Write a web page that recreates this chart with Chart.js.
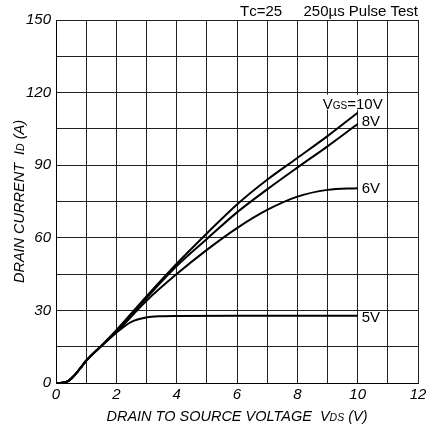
<!DOCTYPE html>
<html>
<head>
<meta charset="utf-8">
<script src="https://cdn.jsdelivr.net/npm/chart.js@4"></script>
<style>
  html, body { margin: 0; padding: 0; background: #fff; }
  #wrap { width: 426px; height: 430px; }
</style>
</head>
<body>
<div id="wrap"><canvas id="idChart" width="426" height="430"></canvas></div>
<script>
// drain voltage (V) sample points and drain current (A) for each gate voltage
const vds = [0, 0.2, 0.4, 0.6, 0.8, 1, 1.5, 2, 3, 4, 5, 6, 7, 8, 9, 10];
const id10V = [0, 0.1, 0.8, 3.0, 6.0, 9.2, 15.3, 21.8, 35.8, 49.3, 61.8, 73.8, 84, 93, 102, 111.7];
const id8V  = [0, 0.1, 0.8, 3.0, 6.0, 9.2, 15.3, 21.5, 35.2, 48.3, 59.5, 70.5, 80, 89, 97.8, 107];
const id6V  = [0, 0.1, 0.8, 3.0, 6.0, 9.2, 15.3, 21, 34, 45, 55, 64, 71.5, 77, 79.8, 80.5];
const vds5 = [0, 0.2, 0.4, 0.6, 0.8, 1, 1.5, 2, 2.5, 3, 3.5, 4, 6, 8, 10];
const id5V = [0, 0.1, 0.8, 3.0, 6.0, 9.2, 15.3, 20.8, 25.3, 27.1, 27.6, 27.7, 27.8, 27.8, 27.8];

const seriesNames = ['10V', '8V', '6V', '5V'];
const xTicks = [0, 2, 4, 6, 8, 10, 12];
const yTicks = [0, 30, 60, 90, 120, 150];

const FONT = '"Liberation Sans", Arial, sans-serif';

function pts(xs, ys) {
  return xs.map((x, i) => ({ x: x, y: ys[i] }));
}

function mixed(ctx, parts, x, y) {
  // parts: [text, size, italic]
  let cx = x;
  parts.forEach(p => {
    ctx.font = (p[2] ? 'italic ' : '') + p[1] + 'px ' + FONT;
    ctx.fillText(p[0], cx, y);
    cx += ctx.measureText(p[0]).width;
  });
  return cx;
}
function mixedWidth(ctx, parts) {
  let w = 0;
  parts.forEach(p => {
    ctx.font = (p[2] ? 'italic ' : '') + p[1] + 'px ' + FONT;
    w += ctx.measureText(p[0]).width;
  });
  return w;
}

const textPlugin = {
  id: 'texts',
  afterDraw(chart) {
    const ctx = chart.ctx;
    const xs = chart.scales.x, ys = chart.scales.y;
    ctx.save();
    ctx.fillStyle = '#000';
    ctx.textBaseline = 'alphabetic';
    ctx.textAlign = 'left';

    // header
    mixed(ctx, [['T', 15], ['c', 15], ['=25', 15]], 240, 16);
    const hw = mixedWidth(ctx, [['250µs Pulse Test', 15]]);
    mixed(ctx, [['250µs Pulse Test', 15]], 418 - hw, 16);

    // axis titles
    const xt = [['DRAIN TO SOURCE VOLTAGE  V', 14.5, true], ['DS', 10.5, true], [' (V)', 14.5, true]];
    const xw = mixedWidth(ctx, xt);
    mixed(ctx, xt, 237 - xw / 2, 421);

    const yt = [['DRAIN CURRENT  I', 14.5, true], ['D', 10.5, true], [' (A)', 14.5, true]];
    const yw = mixedWidth(ctx, yt);
    ctx.save();
    ctx.translate(24, (chart.chartArea.top + chart.chartArea.bottom) / 2);
    ctx.rotate(-Math.PI / 2);
    mixed(ctx, yt, -yw / 2, 0);
    ctx.restore();

    // curve labels
    const xEnd = xs.getPixelForValue(10);
    const last = [id10V, id8V, id6V, id5V].map(a => a[a.length - 1]);
    // VGS=10V label sits above the curve end on a white patch
    const vp = [['V', 15], ['GS', 10], ['=10V', 15]];
    const vw = mixedWidth(ctx, vp);
    const vy = ys.getPixelForValue(last[0]) - 4;
    ctx.fillStyle = '#fff';
    ctx.fillRect(xEnd + 25 - vw - 2, vy - 14, vw + 4, 15);
    ctx.fillStyle = '#000';
    mixed(ctx, vp, xEnd + 25 - vw, vy);
    const dy = [0, 2, 5, 6];
    for (let i = 1; i < 4; i++) {
      mixed(ctx, [[seriesNames[i], 15]], xEnd + 4, ys.getPixelForValue(last[i]) + dy[i]);
    }
    ctx.restore();
  }
};

const line = (data) => ({
  data: data,
  borderColor: '#000',
  borderWidth: 2,
  pointRadius: 0,
  fill: false,
  cubicInterpolationMode: 'monotone'
});

new Chart(document.getElementById('idChart').getContext('2d'), {
  type: 'line',
  data: {
    datasets: [
      line(pts(vds, id10V)),
      line(pts(vds, id8V)),
      line(pts(vds, id6V)),
      line(pts(vds5, id5V))
    ]
  },
  options: {
    responsive: false,
    animation: false,
    layout: { padding: { top: 20, right: 8, left: 0, bottom: 0 } },
    plugins: { legend: { display: false }, tooltip: { enabled: false } },
    scales: {
      x: {
        type: 'linear',
        min: 0, max: 12,
        afterFit: s => { s.height = 47; s.paddingRight = 0; s.paddingLeft = 0; },
        grid: { color: '#222', lineWidth: 1, drawTicks: false },
        border: { color: '#000', width: 1 },
        ticks: {
          stepSize: 1,
          padding: 3,
          color: '#000',
          font: { family: FONT, size: 15, style: 'italic' },
          callback: v => xTicks.includes(v) ? String(v) : ''
        }
      },
      y: {
        min: 0, max: 150,
        afterFit: s => { s.width = 56; s.paddingTop = 0; s.paddingBottom = 0; },
        grid: { color: '#222', lineWidth: 1, drawTicks: false },
        border: { color: '#000', width: 1 },
        ticks: {
          stepSize: 15,
          padding: 5,
          color: '#000',
          font: { family: FONT, size: 15, style: 'italic' },
          callback: v => yTicks.includes(v) ? String(v) : ''
        }
      }
    }
  },
  plugins: [textPlugin]
});
</script>
</body>
</html>
